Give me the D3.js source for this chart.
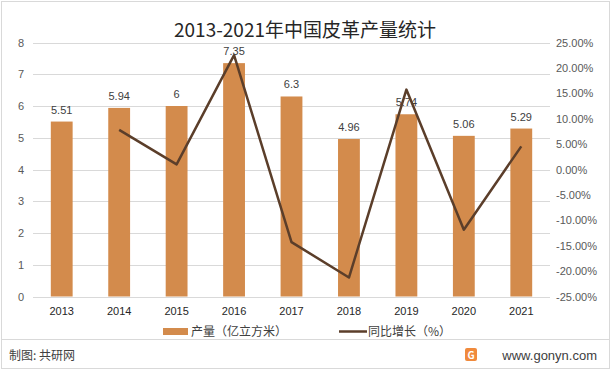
<!DOCTYPE html>
<html>
<head>
<meta charset="utf-8">
<script src="https://cdn.jsdelivr.net/npm/d3@7"></script>
<style>
  body { margin: 0; background: #fff; }
  svg { display: block; font-family: "Noto Sans CJK SC", "Noto Sans", sans-serif; }
</style>
</head>
<body>
<div id="chart"></div>
<script>
// chart data
const years = ["2013", "2014", "2015", "2016", "2017", "2018", "2019", "2020", "2021"];
const output = [5.51, 5.94, 6, 7.35, 6.3, 4.96, 5.74, 5.06, 5.29];
const growth = [null, 7.80, 1.01, 22.50, -14.29, -21.27, 15.73, -11.85, 4.55];
const leftTicks = [0, 1, 2, 3, 4, 5, 6, 7, 8];
const rightTicks = [-25, -20, -15, -10, -5, 0, 5, 10, 15, 20, 25];

const W = 611, H = 371;
const barColor = "#D38B4C";
const lineColor = "#5B3E2A";

const svg = d3.select("#chart").append("svg")
  .attr("width", W).attr("height", H);

svg.append("rect")
  .attr("x", 1.5).attr("y", 1.5)
  .attr("width", W - 3).attr("height", H - 4)
  .attr("fill", "#fff").attr("stroke", "#D9D9D9");

const x = d3.scaleBand().domain(years).range([33, 550]).paddingInner(0.62).paddingOuter(0.31);
const yL = d3.scaleLinear().domain([0, 8]).range([296.5, 42.5]);
const yR = d3.scaleLinear().domain([-25, 25]).range([296.5, 42.5]);

// gridlines
svg.append("g").selectAll("line").data(leftTicks).join("line")
  .attr("x1", 33).attr("x2", 550)
  .attr("y1", d => Math.round(yL(d)) + 0.5).attr("y2", d => Math.round(yL(d)) + 0.5)
  .attr("stroke", "#D9D9D9");

// left axis
const axL = svg.append("g").attr("transform", "translate(33,0)")
  .call(d3.axisLeft(yL).tickValues(leftTicks).tickSize(0).tickPadding(9));
axL.select(".domain").remove();
axL.selectAll("text").attr("font-size", 11).attr("fill", "#595959").attr("font-family", "Liberation Sans, sans-serif");

// right axis
const axR = svg.append("g").attr("transform", "translate(550,0)")
  .call(d3.axisRight(yR).tickValues(rightTicks).tickSize(0).tickPadding(6)
    .tickFormat(d => d.toFixed(2) + "%"));
axR.select(".domain").remove();
axR.selectAll("text").attr("font-size", 11).attr("fill", "#595959").attr("font-family", "Liberation Sans, sans-serif");

// bottom axis
const axB = svg.append("g").attr("transform", "translate(0,296.5)")
  .call(d3.axisBottom(x).tickSize(0).tickPadding(11));
axB.select(".domain").remove();
axB.selectAll("text").attr("font-size", 11).attr("fill", "#262626").attr("font-family", "Liberation Sans, sans-serif");

// bars
svg.append("g").selectAll("rect").data(output).join("rect")
  .attr("x", (d, i) => x(years[i]))
  .attr("width", x.bandwidth())
  .attr("y", d => yL(d))
  .attr("height", d => yL(0) - yL(d))
  .attr("fill", barColor);

// bar labels
svg.append("g").selectAll("text").data(output).join("text")
  .attr("x", (d, i) => x(years[i]) + x.bandwidth() / 2)
  .attr("y", d => yL(d) - 8)
  .attr("text-anchor", "middle")
  .attr("font-size", 11)
  .attr("fill", "#404040")
  .attr("font-family", "Liberation Sans, sans-serif")
  .text(d => d);

// growth line
const pts = growth.map((g, i) => ({ year: years[i], g })).filter(p => p.g !== null);
svg.append("path").datum(pts)
  .attr("fill", "none")
  .attr("stroke", lineColor)
  .attr("stroke-width", 2.5)
  .attr("stroke-linejoin", "round")
  .attr("d", d3.line().x(p => x(p.year) + x.bandwidth() / 2).y(p => yR(p.g)));

// title
svg.append("text")
  .attr("x", 305).attr("y", 37)
  .attr("text-anchor", "middle")
  .attr("font-size", 19)
  .attr("fill", "#262626")
  .text("2013-2021年中国皮革产量统计");

// legend
const lg = svg.append("g");
lg.append("rect").attr("x", 163).attr("y", 328).attr("width", 25).attr("height", 7).attr("fill", barColor);
lg.append("text").attr("x", 191).attr("y", 336).attr("font-size", 12).attr("fill", "#404040")
  .text("产量（亿立方米）");
lg.append("line").attr("x1", 339).attr("x2", 367).attr("y1", 331.5).attr("y2", 331.5)
  .attr("stroke", lineColor).attr("stroke-width", 2.5);
lg.append("text").attr("x", 368).attr("y", 336).attr("font-size", 12).attr("fill", "#404040")
  .text("同比增长（%）");

// footer
svg.append("line").attr("x1", 2).attr("x2", W - 2).attr("y1", 339.5).attr("y2", 339.5)
  .attr("stroke", "#D9D9D9");
svg.append("text").attr("x", 9).attr("y", 360).attr("font-size", 12).attr("fill", "#404040")
  .text("制图: 共研网");
svg.append("rect").attr("x", 465).attr("y", 348).attr("width", 12).attr("height", 13)
  .attr("rx", 2).attr("fill", "#F08A3C");
svg.append("text").attr("x", 471).attr("y", 359).attr("text-anchor", "middle")
  .attr("font-size", 10).attr("font-weight", "bold").attr("fill", "#fff").text("G");
svg.append("text").attr("x", 597).attr("y", 360).attr("text-anchor", "end")
  .attr("font-size", 13).attr("fill", "#404040").attr("font-family", "Liberation Sans, sans-serif")
  .text("www.gonyn.com");
</script>
</body>
</html>
